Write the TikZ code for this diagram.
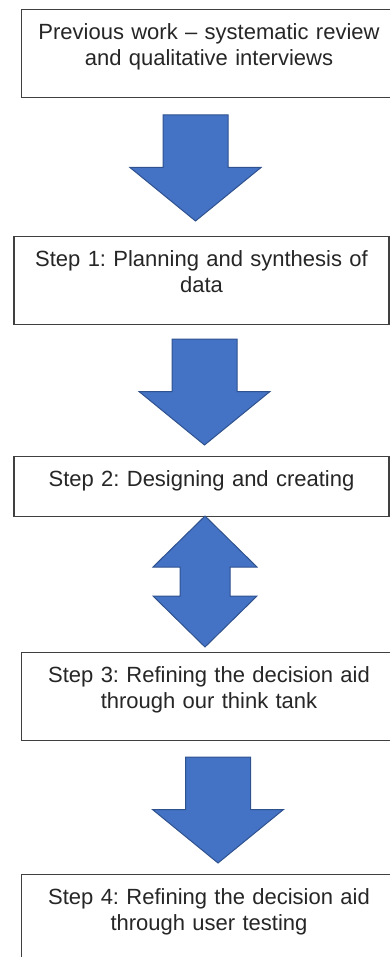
\documentclass[tikz,border=0pt]{standalone}
\usepackage{fontspec}
\setmainfont{Liberation Sans}
\frenchspacing
\definecolor{arrowblue}{HTML}{4472C4}
\definecolor{arrowedge}{HTML}{2F528F}
\definecolor{boxedge}{HTML}{404040}
\definecolor{boxtext}{HTML}{262626}
\tikzset{
  stepbox/.style={draw=boxedge, line width=1.3pt, fill=white, anchor=north,
    align=center, text width=367pt, inner xsep=4pt, inner ysep=4pt,
    text height=26pt, text depth=54pt, text=boxtext,
    font=\fontsize{22}{26}\selectfont},
  blockarrow/.style={fill=arrowblue, draw=arrowedge, line width=1pt},
  downblock/.pic={
    \path[blockarrow] (-32.5,0) -- (32.5,0) -- (32.5,52.5) -- (65.5,52.5)
      -- (0,106) -- (-65.5,52.5) -- (-32.5,52.5) -- cycle;
  },
  updownblock/.pic={
    \path[blockarrow] (0,0) -- (52,51) -- (25,51) -- (25,80) -- (52,80)
      -- (0,131) -- (-52,80) -- (-25,80) -- (-25,51) -- (-52,51) -- cycle;
  }
}
\begin{document}
\begin{tikzpicture}[x=1pt,y=-1pt]
  \path[use as bounding box, clip] (0,0) rectangle (390,957);
  % boxes
  \node[stepbox] (prev) at (209,9) {Previous work -- systematic review\\and qualitative interviews};
  \node[stepbox] (step1) at (201.5,236) {Step 1: Planning and synthesis of\\data};
  \node[stepbox, text depth=26pt] (step2) at (201.5,456) {Step 2: Designing and creating};
  \node[stepbox] (step3) at (209,652) {Step 3: Refining the decision aid\\through our think tank};
  \node[stepbox] (step4) at (209,874) {Step 4: Refining the decision aid\\through user testing};
  % block arrows
  \pic (arr1) at (195.5,115) {downblock};
  \pic (arr2) at (204.5,339) {downblock};
  \pic (arr3) at (205,516) {updownblock};
  \pic (arr4) at (218,757) {downblock};
\end{tikzpicture}
\end{document}
